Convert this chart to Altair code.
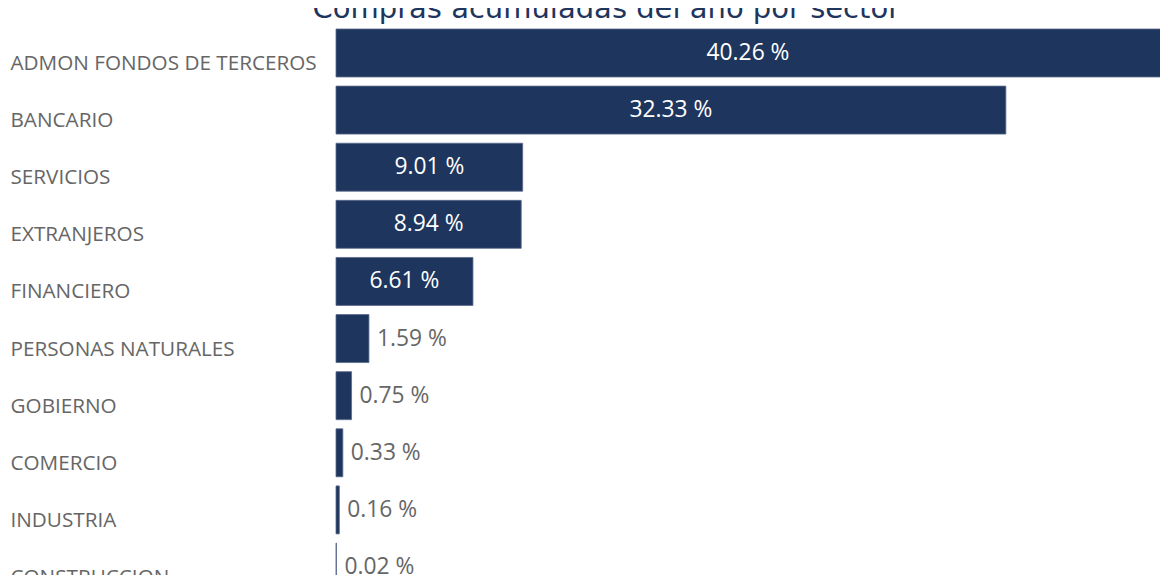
import altair as alt
import pandas as pd

sectors = ["ADMON FONDOS DE TERCEROS", "BANCARIO", "SERVICIOS", "EXTRANJEROS",
           "FINANCIERO", "PERSONAS NATURALES", "GOBIERNO", "COMERCIO",
           "INDUSTRIA", "CONSTRUCCION"]
shares = [40.26, 32.33, 9.01, 8.94, 6.61, 1.59, 0.75, 0.33, 0.16, 0.02]

df = pd.DataFrame({"sector": sectors, "share": shares})
df["label"] = [f"{v:.2f} %" for v in shares]

NAVY = "#1e355e"
XMAX = 39.77

y = alt.Y("sector:N", sort=sectors, title=None,
          scale=alt.Scale(range=[0, 572], paddingInner=0.16, paddingOuter=0.0875),
          axis=alt.Axis(ticks=False, domain=False, labelAlign="left", labelPadding=326,
                        labelBaseline="alphabetic", labelOffset=17, labelFontSize=20.7,
                        labelFont="Open Sans", labelColor="#666666", labelLimit=400))
x = alt.X("share:Q", title=None, axis=None,
          scale=alt.Scale(domain=[0, XMAX], nice=False, zero=True))

base = alt.Chart(df)

bars = base.mark_bar(color=NAVY, stroke="#5a6a8c", strokeWidth=0.8).encode(x=x, y=y)

inside = base.transform_filter("datum.share >= 5").transform_calculate(
    mid="min(datum.share, %f) / 2" % XMAX
).mark_text(align="center", baseline="alphabetic", dy=7, font="Open Sans",
            fontSize=22.8, color="white").encode(
    x=alt.X("mid:Q", axis=None, scale=alt.Scale(domain=[0, XMAX], nice=False)),
    y=y, text="label:N")

outside = base.transform_filter("datum.share < 5").mark_text(
    align="left", baseline="alphabetic", dx=8, dy=7, font="Open Sans",
    fontSize=22.8, color="#666666").encode(x=x, y=y, text="label:N")

chart = alt.layer(bars, inside, outside).properties(
    width=824, height=551,
    title=alt.TitleParams("Compras acumuladas del año por sector", font="DejaVu Sans",
                          fontSize=29, fontWeight="normal", color=NAVY,
                          anchor="middle", frame="bounds", baseline="alphabetic",
                          offset=0, dx=16, dy=23),
    autosize=alt.AutoSizeParams(type="none"),
    padding={"left": 328, "top": 16, "right": 0, "bottom": 0},
).configure_view(stroke=None)

chart.save("out.html", embed_options={"renderer": "svg", "actions": False})
